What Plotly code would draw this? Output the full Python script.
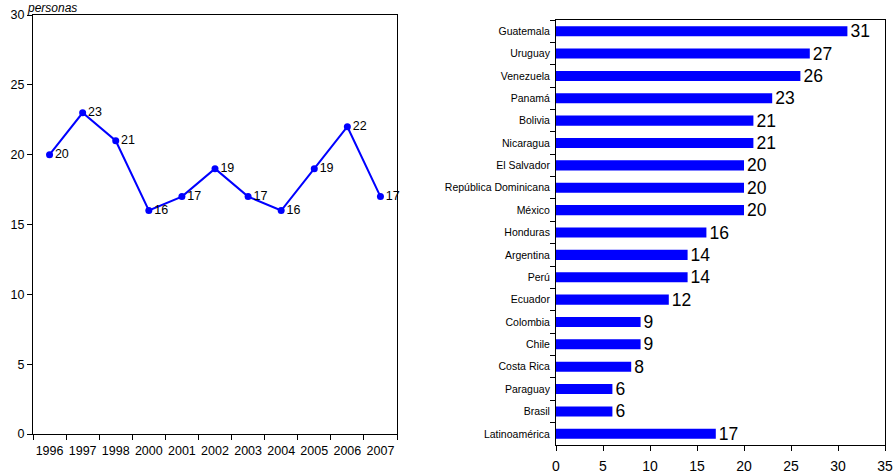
import plotly.graph_objects as go

years = ["1996", "1997", "1998", "2000", "2001", "2002", "2003", "2004", "2005", "2006", "2007"]
persons = [20, 23, 21, 16, 17, 19, 17, 16, 19, 22, 17]

countries = ["Guatemala", "Uruguay", "Venezuela", "Panamá", "Bolivia", "Nicaragua", "El Salvador",
             "República Dominicana", "México", "Honduras", "Argentina", "Perú", "Ecuador",
             "Colombia", "Chile", "Costa Rica", "Paraguay", "Brasil", "Latinoamérica"]
country_vals = [31, 27, 26, 23, 21, 21, 20, 20, 20, 16, 14, 14, 12, 9, 9, 8, 6, 6, 17]

FONT = "Arial, Liberation Sans, sans-serif"
BLUE = "#0000FF"
W, H = 893, 474

fig = go.Figure()

fig.add_trace(go.Scatter(
    x=years, y=persons, mode="lines+markers+text",
    line=dict(color=BLUE, width=2), marker=dict(color=BLUE, size=7),
    text=[str(v) for v in persons], textposition="middle right",
    textfont=dict(family=FONT, size=12.5, color="#000000"),
    cliponaxis=False, xaxis="x", yaxis="y", showlegend=False,
))

fig.add_trace(go.Bar(
    x=country_vals, y=countries, orientation="h", marker=dict(color=BLUE, line=dict(width=0)),
    width=0.45, text=[str(v) for v in country_vals], textposition="outside",
    constraintext="none",
    textfont=dict(family=FONT, size=17.5, color="#000000"), cliponaxis=False,
    xaxis="x2", yaxis="y2", showlegend=False,
))

axis_common = dict(showline=True, linecolor="#000000", linewidth=1, mirror=True,
                   showgrid=False, zeroline=False, ticks="outside", ticklen=5,
                   tickcolor="#000000", automargin=False)

fig.update_layout(
    width=W, height=H, margin=dict(l=0, r=0, t=0, b=0),
    paper_bgcolor="white", plot_bgcolor="white",
    font=dict(family=FONT, color="#000000"),
    xaxis=dict(domain=[33 / W, 397 / W], type="category", tickson="boundaries",
               range=[-0.5, len(years) - 0.5], ticklabelstandoff=5,
               tickangle=0, tickfont=dict(size=12.5), anchor="y", **axis_common),
    yaxis=dict(domain=[1 - 434 / H, 1 - 15 / H], range=[0, 30], tick0=0, dtick=5,
               tickfont=dict(size=12.5), anchor="x", **axis_common),
    xaxis2=dict(domain=[556 / W, 885 / W], range=[0, 35], tick0=0, dtick=5,
                ticklabelstandoff=3,
                tickangle=0, tickfont=dict(size=14), anchor="y2", **axis_common),
    yaxis2=dict(domain=[1 - 445 / H, 1 - 20 / H], type="category", autorange="reversed",
                tickson="boundaries", ticklabelstandoff=3,
                tickfont=dict(size=10.5), anchor="x2", **axis_common),
    annotations=[dict(text="<i>personas</i>", xref="paper", yref="paper",
                      x=26 / W, y=1, xanchor="left", yanchor="top", borderpad=0,
                      showarrow=False, font=dict(size=12, family=FONT))],
)

fig.write_html("out.html", config={"displayModeBar": False},
               post_script="document.body.style.margin='0';document.body.style.overflow='hidden';")
